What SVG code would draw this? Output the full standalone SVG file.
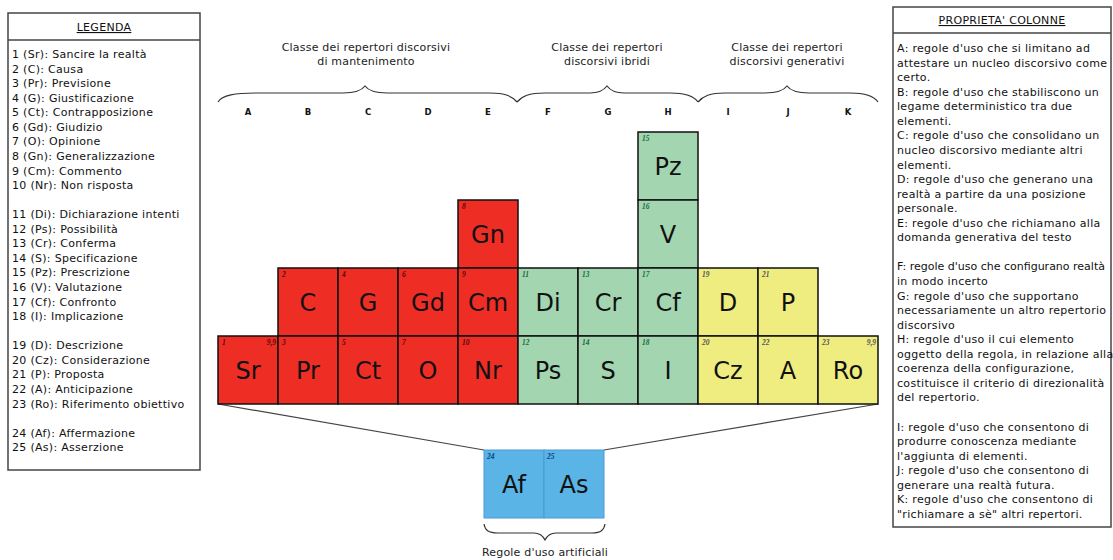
<svg xmlns="http://www.w3.org/2000/svg" width="1113" height="560" viewBox="0 0 1113 560">
<style>
  .box{fill:#fff;stroke:#444;stroke-width:1.5}
  .t{font-family:"DejaVu Sans",Verdana,sans-serif;font-size:11px;letter-spacing:0.3px;fill:#111}
  .hd{font-family:"DejaVu Sans",Verdana,sans-serif;font-size:11px;letter-spacing:0.3px;fill:#111;text-anchor:middle;text-decoration:underline}
  .cls{font-family:"DejaVu Sans",Verdana,sans-serif;font-size:11px;letter-spacing:0.2px;fill:#222;text-anchor:middle}
  .col{font-family:"DejaVu Sans",Verdana,sans-serif;font-size:8.5px;font-weight:bold;fill:#111;text-anchor:middle}
  .r{fill:#ee2d25;stroke:#111;stroke-width:1.5}
  .g{fill:#a2d5b0;stroke:#111;stroke-width:1.5}
  .y{fill:#efec80;stroke:#111;stroke-width:1.5}
  .b{fill:#5ab4e6;stroke:#4a9ad6;stroke-width:1}
  .lb{font-family:"DejaVu Sans",Verdana,sans-serif;font-size:24px;fill:#111;text-anchor:middle}
  .n{font-family:"Liberation Serif",serif;font-size:7.5px;font-style:italic;font-weight:bold}
  .nr{fill:#5a0a08}
  .ng{fill:#1d6b3a}
  .ny{fill:#555}
  .nb{fill:#0b3f7a}
  .br{fill:none;stroke:#333;stroke-width:1.2}
  .ln{fill:none;stroke:#444;stroke-width:1.2}
</style>

<g id="legenda">
  <rect class="box" x="8" y="13" width="192" height="457"/>
  <line x1="8" y1="40" x2="200" y2="40" stroke="#444" stroke-width="1.5"/>
  <text class="hd" x="104" y="31">LEGENDA</text>
  <text class="t" x="12" y="58">1 (Sr): Sancire la realtà</text>
  <text class="t" x="12" y="72.5">2 (C): Causa</text>
  <text class="t" x="12" y="87.1">3 (Pr): Previsione</text>
  <text class="t" x="12" y="101.7">4 (G): Giustificazione</text>
  <text class="t" x="12" y="116.2">5 (Ct): Contrapposizione</text>
  <text class="t" x="12" y="130.8">6 (Gd): Giudizio</text>
  <text class="t" x="12" y="145.4">7 (O): Opinione</text>
  <text class="t" x="12" y="159.9">8 (Gn): Generalizzazione</text>
  <text class="t" x="12" y="174.5">9 (Cm): Commento</text>
  <text class="t" x="12" y="189">10 (Nr): Non risposta</text>
  <text class="t" x="12" y="218.2">11 (Di): Dichiarazione intenti</text>
  <text class="t" x="12" y="232.7">12 (Ps): Possibilità</text>
  <text class="t" x="12" y="247.3">13 (Cr): Conferma</text>
  <text class="t" x="12" y="261.9">14 (S): Specificazione</text>
  <text class="t" x="12" y="276.4">15 (Pz): Prescrizione</text>
  <text class="t" x="12" y="291">16 (V): Valutazione</text>
  <text class="t" x="12" y="305.5">17 (Cf): Confronto</text>
  <text class="t" x="12" y="320.1">18 (I): Implicazione</text>
  <text class="t" x="12" y="349.2">19 (D): Descrizione</text>
  <text class="t" x="12" y="363.8">20 (Cz): Considerazione</text>
  <text class="t" x="12" y="378.3">21 (P): Proposta</text>
  <text class="t" x="12" y="392.9">22 (A): Anticipazione</text>
  <text class="t" x="12" y="407.5">23 (Ro): Riferimento obiettivo</text>
  <text class="t" x="12" y="436.6">24 (Af): Affermazione</text>
  <text class="t" x="12" y="451.1">25 (As): Asserzione</text>
</g>

<g id="proprieta-colonne">
  <rect class="box" x="893" y="7" width="218" height="520"/>
  <line x1="893" y1="33" x2="1111" y2="33" stroke="#444" stroke-width="1.5"/>
  <text class="hd" x="1002" y="24">PROPRIETA' COLONNE</text>
  <text class="t" x="897" y="52">A: regole d'uso che si limitano ad</text>
  <text class="t" x="897" y="66.6">attestare un nucleo discorsivo come</text>
  <text class="t" x="897" y="81.1">certo.</text>
  <text class="t" x="897" y="95.7">B: regole d'uso che stabiliscono un</text>
  <text class="t" x="897" y="110.2">legame deterministico tra due</text>
  <text class="t" x="897" y="124.8">elementi.</text>
  <text class="t" x="897" y="139.4">C: regole d'uso che consolidano un</text>
  <text class="t" x="897" y="153.9">nucleo discorsivo mediante altri</text>
  <text class="t" x="897" y="168.5">elementi.</text>
  <text class="t" x="897" y="183">D: regole d'uso che generano una</text>
  <text class="t" x="897" y="197.6">realtà a partire da una posizione</text>
  <text class="t" x="897" y="212.2">personale.</text>
  <text class="t" x="897" y="226.7">E: regole d'uso che richiamano alla</text>
  <text class="t" x="897" y="241.3">domanda generativa del testo</text>
  <text class="t" x="897" y="270.4" style="letter-spacing:0">F: regole d'uso che configurano realtà</text>
  <text class="t" x="897" y="285">in modo incerto</text>
  <text class="t" x="897" y="299.5">G: regole d'uso che supportano</text>
  <text class="t" x="897" y="314.1">necessariamente un altro repertorio</text>
  <text class="t" x="897" y="328.6">discorsivo</text>
  <text class="t" x="897" y="343.2">H: regole d'uso il cui elemento</text>
  <text class="t" x="897" y="357.8">oggetto della regola, in relazione alla</text>
  <text class="t" x="897" y="372.3">coerenza della configurazione,</text>
  <text class="t" x="897" y="386.9">costituisce il criterio di direzionalità</text>
  <text class="t" x="897" y="401.4">del repertorio.</text>
  <text class="t" x="897" y="430.6">I: regole d'uso che consentono di</text>
  <text class="t" x="897" y="445.1">produrre conoscenza mediante</text>
  <text class="t" x="897" y="459.7">l'aggiunta di elementi.</text>
  <text class="t" x="897" y="474.2">J: regole d'uso che consentono di</text>
  <text class="t" x="897" y="488.8">generare una realtà futura.</text>
  <text class="t" x="897" y="503.4">K: regole d'uso che consentono di</text>
  <text class="t" x="897" y="517.9">"richiamare a sè" altri repertori.</text>
</g>

<g id="classi">
  <text class="cls" x="366" y="51">Classe dei repertori discorsivi</text>
  <text class="cls" x="366" y="65">di mantenimento</text>
  <text class="cls" x="607" y="51">Classe dei repertori</text>
  <text class="cls" x="607" y="65">discorsivi ibridi</text>
  <text class="cls" x="787" y="51">Classe dei repertori</text>
  <text class="cls" x="787" y="65">discorsivi generativi</text>
  <path class="br" d="M218,102 C222,95 235,93 258,93 L343,93 C355,93 362,90 365,86 C368,90 375,93 387,93 L490,93 C505,93 512,96 517,102"/>
  <path class="br" d="M517,102 C522,96 529,93 545,93 L590,93 C600,93 604,90 607,86 C610,90 614,93 624,93 L670,93 C686,93 694,96 698,102"/>
  <path class="br" d="M698,102 C703,96 710,93 725,93 L765,93 C778,93 784,90 787,86 C790,90 796,93 809,93 L850,93 C866,93 874,96 878,102"/>
  <text class="col" x="248" y="115">A</text>
  <text class="col" x="308" y="115">B</text>
  <text class="col" x="368" y="115">C</text>
  <text class="col" x="428" y="115">D</text>
  <text class="col" x="488" y="115">E</text>
  <text class="col" x="548" y="115">F</text>
  <text class="col" x="608" y="115">G</text>
  <text class="col" x="668" y="115">H</text>
  <text class="col" x="728" y="115">I</text>
  <text class="col" x="788" y="115">J</text>
  <text class="col" x="848" y="115">K</text>
</g>

<g id="connectors">
  <line class="ln" x1="218" y1="404" x2="484" y2="450"/>
  <line class="ln" x1="878" y1="404" x2="604" y2="450"/>
</g>

<g id="cell-Gn"><rect class="r" x="458" y="200" width="60" height="68"/><text class="n nr" x="462" y="209">8</text><text class="lb" x="488" y="243">Gn</text></g>
<g id="cell-C"><rect class="r" x="278" y="268" width="60" height="68"/><text class="n nr" x="282" y="277">2</text><text class="lb" x="308" y="311">C</text></g>
<g id="cell-G"><rect class="r" x="338" y="268" width="60" height="68"/><text class="n nr" x="342" y="277">4</text><text class="lb" x="368" y="311">G</text></g>
<g id="cell-Gd"><rect class="r" x="398" y="268" width="60" height="68"/><text class="n nr" x="402" y="277">6</text><text class="lb" x="428" y="311">Gd</text></g>
<g id="cell-Cm"><rect class="r" x="458" y="268" width="60" height="68"/><text class="n nr" x="462" y="277">9</text><text class="lb" x="488" y="311">Cm</text></g>
<g id="cell-Sr"><rect class="r" x="218" y="336" width="60" height="68"/><text class="n nr" x="222" y="345">1</text><text class="n nr" x="276" y="345" text-anchor="end">9,9</text><text class="lb" x="248" y="379">Sr</text></g>
<g id="cell-Pr"><rect class="r" x="278" y="336" width="60" height="68"/><text class="n nr" x="282" y="345">3</text><text class="lb" x="308" y="379">Pr</text></g>
<g id="cell-Ct"><rect class="r" x="338" y="336" width="60" height="68"/><text class="n nr" x="342" y="345">5</text><text class="lb" x="368" y="379">Ct</text></g>
<g id="cell-O"><rect class="r" x="398" y="336" width="60" height="68"/><text class="n nr" x="402" y="345">7</text><text class="lb" x="428" y="379">O</text></g>
<g id="cell-Nr"><rect class="r" x="458" y="336" width="60" height="68"/><text class="n nr" x="462" y="345">10</text><text class="lb" x="488" y="379">Nr</text></g>

<g id="cell-Pz"><rect class="g" x="638" y="132" width="60" height="68"/><text class="n ng" x="642" y="141">15</text><text class="lb" x="668" y="175">Pz</text></g>
<g id="cell-V"><rect class="g" x="638" y="200" width="60" height="68"/><text class="n ng" x="642" y="209">16</text><text class="lb" x="668" y="243">V</text></g>
<g id="cell-Di"><rect class="g" x="518" y="268" width="60" height="68"/><text class="n ng" x="522" y="277">11</text><text class="lb" x="548" y="311">Di</text></g>
<g id="cell-Cr"><rect class="g" x="578" y="268" width="60" height="68"/><text class="n ng" x="582" y="277">13</text><text class="lb" x="608" y="311">Cr</text></g>
<g id="cell-Cf"><rect class="g" x="638" y="268" width="60" height="68"/><text class="n ng" x="642" y="277">17</text><text class="lb" x="668" y="311">Cf</text></g>
<g id="cell-Ps"><rect class="g" x="518" y="336" width="60" height="68"/><text class="n ng" x="522" y="345">12</text><text class="lb" x="548" y="379">Ps</text></g>
<g id="cell-S"><rect class="g" x="578" y="336" width="60" height="68"/><text class="n ng" x="582" y="345">14</text><text class="lb" x="608" y="379">S</text></g>
<g id="cell-I"><rect class="g" x="638" y="336" width="60" height="68"/><text class="n ng" x="642" y="345">18</text><text class="lb" x="668" y="379">I</text></g>

<g id="cell-D"><rect class="y" x="698" y="268" width="60" height="68"/><text class="n ny" x="702" y="277">19</text><text class="lb" x="728" y="311">D</text></g>
<g id="cell-P"><rect class="y" x="758" y="268" width="60" height="68"/><text class="n ny" x="762" y="277">21</text><text class="lb" x="788" y="311">P</text></g>
<g id="cell-Cz"><rect class="y" x="698" y="336" width="60" height="68"/><text class="n ny" x="702" y="345">20</text><text class="lb" x="728" y="379">Cz</text></g>
<g id="cell-A"><rect class="y" x="758" y="336" width="60" height="68"/><text class="n ny" x="762" y="345">22</text><text class="lb" x="788" y="379">A</text></g>
<g id="cell-Ro"><rect class="y" x="818" y="336" width="60" height="68"/><text class="n ny" x="822" y="345">23</text><text class="n ny" x="876" y="345" text-anchor="end">9,9</text><text class="lb" x="848" y="379">Ro</text></g>

<g id="cell-Af"><rect class="b" x="484" y="450" width="60" height="68"/><text class="n nb" x="487" y="459">24</text><text class="lb" x="514" y="493">Af</text></g>
<g id="cell-As"><rect class="b" x="544" y="450" width="60" height="68"/><text class="n nb" x="547" y="459">25</text><text class="lb" x="574" y="493">As</text></g>

<g id="artificiali">
  <path class="br" d="M484,524 C485,530 488,533 498,533 L534,533 C540,533 543,536 545,540 C547,536 550,533 556,533 L592,533 C601,533 604,530 605,524"/>
  <text class="cls" x="545" y="556">Regole d'uso artificiali</text>
</g>
</svg>
